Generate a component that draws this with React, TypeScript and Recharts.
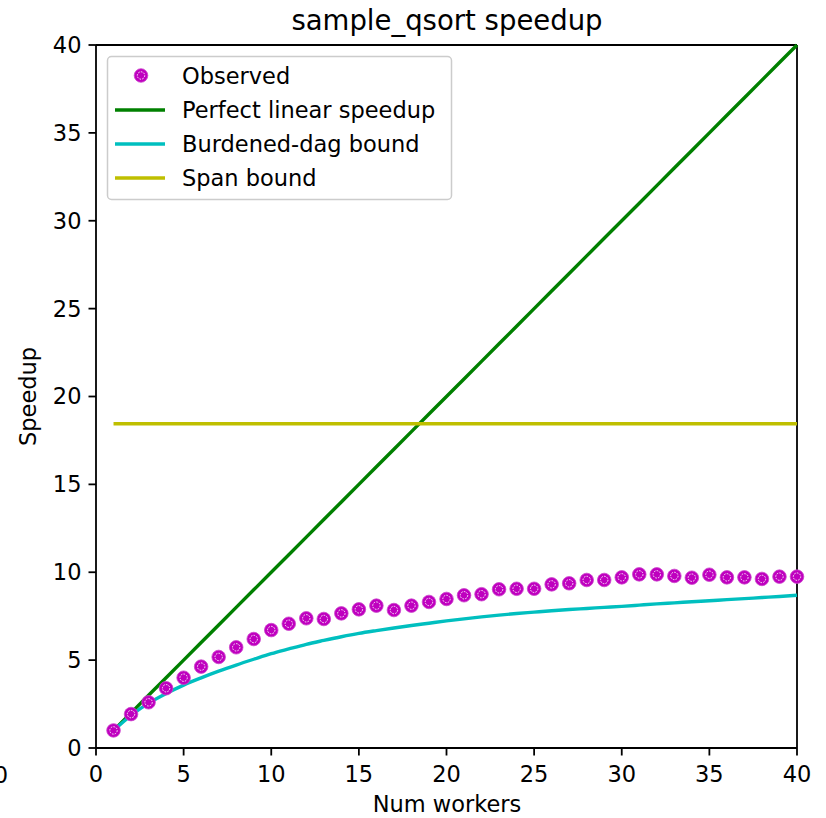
import React from "react";
import { ComposedChart, Line, XAxis, YAxis, ReferenceLine } from "recharts";

const workers = [1,2,3,4,5,6,7,8,9,10,11,12,13,14,15,16,17,18,19,20,21,22,23,24,25,26,27,28,29,30,31,32,33,34,35,36,37,38,39,40];
const observed = [1.0,1.93,2.6,3.4,4.0,4.63,5.18,5.73,6.2,6.71,7.07,7.38,7.34,7.66,7.89,8.1,7.85,8.1,8.31,8.48,8.69,8.75,9.03,9.06,9.06,9.31,9.37,9.56,9.56,9.71,9.88,9.88,9.79,9.69,9.86,9.71,9.71,9.62,9.75,9.75];
const perfectLinear = [1,2,3,4,5,6,7,8,9,10,11,12,13,14,15,16,17,18,19,20,21,22,23,24,25,26,27,28,29,30,31,32,33,34,35,36,37,38,39,40];
const burdenedBound = [1.0,1.85,2.55,3.1,3.58,3.99,4.37,4.72,5.05,5.37,5.64,5.9,6.12,6.33,6.52,6.68,6.83,6.97,7.1,7.23,7.35,7.46,7.56,7.65,7.73,7.81,7.88,7.94,8.0,8.06,8.13,8.2,8.26,8.32,8.38,8.44,8.5,8.56,8.62,8.69];
const spanBound = [18.45,18.45,18.45,18.45,18.45,18.45,18.45,18.45,18.45,18.45,18.45,18.45,18.45,18.45,18.45,18.45,18.45,18.45,18.45,18.45,18.45,18.45,18.45,18.45,18.45,18.45,18.45,18.45,18.45,18.45,18.45,18.45,18.45,18.45,18.45,18.45,18.45,18.45,18.45,18.45];
const axisTicks = [0,5,10,15,20,25,30,35,40];
const legendLabels = ["Observed","Perfect linear speedup","Burdened-dag bound","Span bound"];

const MAGENTA = "#bf00bf";
const GREEN = "#008000";
const CYAN = "#00bfbf";
const YELLOW = "#bfbf00";
const FONT = "DejaVu Sans";

const data = workers.map((w, i) => ({
  x: w,
  observed: observed[i],
  linear: perfectLinear[i],
  burdened: burdenedBound[i],
  span: spanBound[i],
}));

function Marker({ cx, cy }: { cx: number; cy: number }) {
  return (
    <g>
      <circle cx={cx} cy={cy} r={6.8} fill={MAGENTA} stroke="#cc44cc" strokeWidth={0.8} />
      <circle cx={cx} cy={cy} r={3.7} fill="none" stroke="#ffffff" strokeWidth={0.9} strokeDasharray="1.6 1.2" />
    </g>
  );
}

const renderDot = (props: any) => {
  const { cx, cy, index } = props;
  if (cx == null || cy == null) return <g key={"d" + index} />;
  return <Marker key={"d" + index} cx={cx} cy={cy} />;
};

export default function App() {
  const tickStyle = { fontFamily: FONT, fontSize: 22.5, fill: "#000" };
  const rowY = [75.5, 110, 144, 178];
  const colors = [MAGENTA, GREEN, CYAN, YELLOW];
  return (
    <div style={{ position: "absolute", left: 0, top: 0, width: 826, height: 818, background: "#fff" }}>
      <ComposedChart
        width={826}
        height={818}
        data={data}
        margin={{ top: 45, right: 29, left: 0, bottom: 0 }}
      >
        <XAxis
          dataKey="x"
          type="number"
          domain={[0, 40]}
          ticks={axisTicks}
          height={70}
          tickSize={7.5}
          tickMargin={11}
          tick={tickStyle}
          axisLine={{ stroke: "#000", strokeWidth: 1.8 }}
          tickLine={{ stroke: "#000", strokeWidth: 1.8 }}
          interval={0}
        />
        <YAxis
          type="number"
          domain={[0, 40]}
          ticks={axisTicks}
          width={96}
          tickSize={7.5}
          tickMargin={7}
          tick={tickStyle}
          axisLine={{ stroke: "#000", strokeWidth: 1.8 }}
          tickLine={{ stroke: "#000", strokeWidth: 1.8 }}
          interval={0}
        />
        <ReferenceLine y={40} stroke="#000" strokeWidth={1.8} />
        <ReferenceLine x={40} stroke="#000" strokeWidth={1.8} />
        <Line
          dataKey="observed"
          stroke="none"
          dot={renderDot}
          activeDot={false}
          isAnimationActive={false}
          legendType="none"
        />
        <Line dataKey="linear" stroke={GREEN} strokeWidth={3.4} dot={false} activeDot={false} isAnimationActive={false} />
        <Line type="monotone" dataKey="burdened" stroke={CYAN} strokeWidth={3.4} dot={false} activeDot={false} isAnimationActive={false} />
        <Line dataKey="span" stroke={YELLOW} strokeWidth={3.4} strokeLinecap="butt" dot={false} activeDot={false} isAnimationActive={false} />
      </ComposedChart>
      <svg
        width={826}
        height={818}
        style={{ position: "absolute", left: 0, top: 0, pointerEvents: "none" }}
      >
        <text x={447} y={30} textAnchor="middle" fontFamily={FONT} fontSize={27.5} fill="#000">
          sample_qsort speedup
        </text>
        <text x={447} y={812} textAnchor="middle" fontFamily={FONT} fontSize={22.5} fill="#000">
          Num workers
        </text>
        <text
          x={0}
          y={0}
          transform="translate(36,396.5) rotate(-90)"
          textAnchor="middle"
          fontFamily={FONT}
          fontSize={22.5}
          fill="#000"
        >
          Speedup
        </text>
        <text x={8} y={783} textAnchor="end" fontFamily={FONT} fontSize={22.5} fill="#000">
          0
        </text>
        <rect x={107.5} y={56.5} width={344} height={143} rx={4} ry={4} fill="rgba(255,255,255,0.8)" stroke="#cccccc" strokeWidth={1.5} />
        {legendLabels.map((lab, i) => (
          <g key={lab}>
            {i === 0 ? (
              <Marker cx={141} cy={rowY[i]} />
            ) : (
              <line x1={115} x2={165} y1={rowY[i]} y2={rowY[i]} stroke={colors[i]} strokeWidth={3.4} />
            )}
            <text x={182} y={rowY[i] + 8} fontFamily={FONT} fontSize={22.5} fill="#000">
              {lab}
            </text>
          </g>
        ))}
      </svg>
    </div>
  );
}
